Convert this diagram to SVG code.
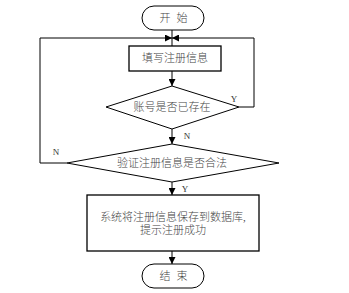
<svg xmlns="http://www.w3.org/2000/svg" width="349" height="293" viewBox="0 0 349 293">
<defs>
<marker id="ah" viewBox="0 0 10 10" refX="10" refY="5" markerWidth="7" markerHeight="7" markerUnits="userSpaceOnUse" orient="auto"><path d="M0,0 L10,5 L0,10 z" fill="#000"/></marker>
<style>
.s{fill:#fff;stroke:#000;stroke-width:1}
.b{fill:#fff;stroke:#000;stroke-width:1.3}
.c{fill:none;stroke:#000;stroke-width:1}
.t{font-family:"Liberation Serif","Noto Sans CJK SC",serif;font-size:11px;font-weight:300;fill:#444;text-anchor:middle}
.l{font-family:"Liberation Serif","Noto Sans CJK SC",serif;font-size:9px;fill:#333;text-anchor:middle}
</style>
</defs>
<rect width="349" height="293" fill="#fff"/>
<g id="connectors">
<line class="c" x1="172" y1="30" x2="172" y2="46"/>
<path class="c" d="M239,107 H254 V38 H172" marker-end="url(#ah)"/>
<path class="c" d="M67,163 H40 V38 H172" marker-end="url(#ah)"/>
<line class="c" x1="172" y1="71" x2="172" y2="86" marker-end="url(#ah)"/>
<line class="c" x1="172" y1="129" x2="172" y2="144" marker-end="url(#ah)"/>
<line class="c" x1="172" y1="182" x2="172" y2="195" marker-end="url(#ah)"/>
<line class="c" x1="172" y1="251" x2="172" y2="264" marker-end="url(#ah)"/>
<text class="l" x="234" y="102">Y</text>
<text class="l" x="187" y="139">N</text>
<text class="l" x="56" y="155">N</text>
<text class="l" x="185" y="192">Y</text>
</g>
<g id="start">
<rect class="s" x="142" y="6" width="62" height="24" rx="12"/>
<text class="t" x="173" y="22"><tspan x="165">开</tspan><tspan x="182">始</tspan></text>
</g>
<g id="fill">
<rect class="b" x="129" y="46" width="92" height="25"/>
<text class="t" x="175" y="62">填写注册信息</text>
</g>
<g id="exists">
<polygon class="s" points="172,86 239,107 172,129 106,107"/>
<text class="t" x="172" y="111">账号是否已存在</text>
</g>
<g id="valid">
<polygon class="s" points="172,144 279,163 172,182 67,163"/>
<text class="t" x="172" y="167">验证注册信息是否合法</text>
</g>
<g id="save">
<rect class="b" x="87" y="195" width="172" height="56"/>
<text class="t" x="173" y="221">系统将注册信息保存到数据库,</text>
<text class="t" x="173" y="234">提示注册成功</text>
</g>
<g id="end">
<rect class="s" x="142" y="264" width="62" height="24" rx="12"/>
<text class="t" x="173" y="280"><tspan x="165">结</tspan><tspan x="182">束</tspan></text>
</g>
</svg>
